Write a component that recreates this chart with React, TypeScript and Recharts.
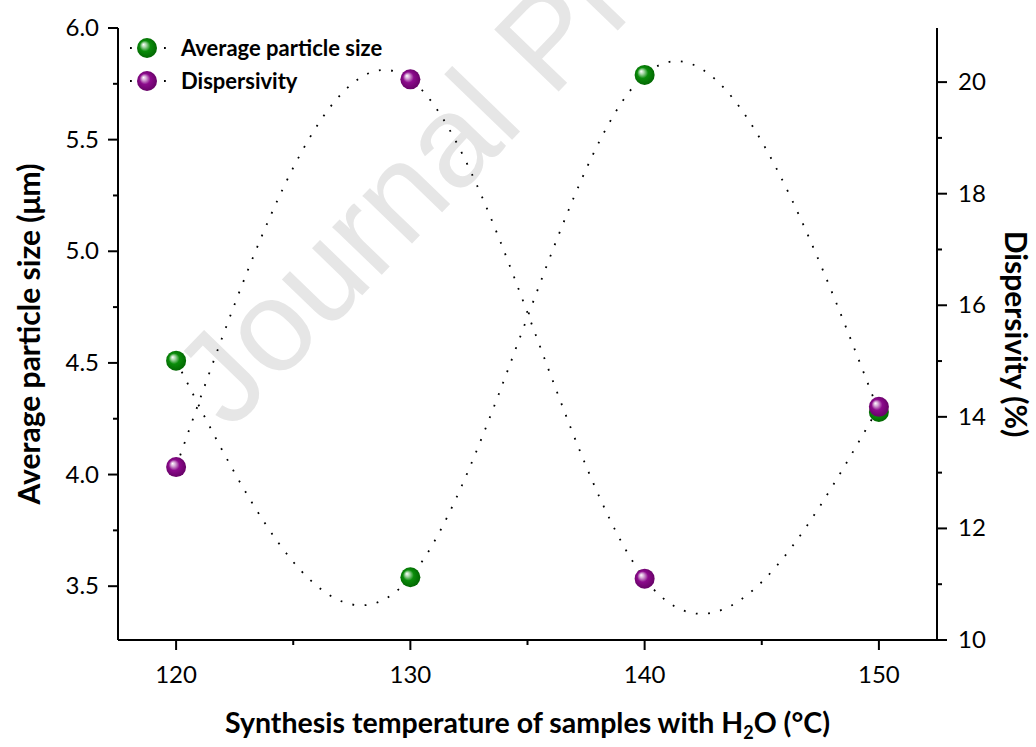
import React from 'react';
import { ComposedChart, Line, XAxis, YAxis } from 'recharts';

// temperatures (°C)
const temperatures = [120, 130, 140, 150];
// average particle size (µm)
const particleSize = [4.51, 3.54, 5.79, 4.28];
// dispersivity (%)
const dispersivity = [13.1, 20.05, 11.1, 14.18];

const xTicks = [120, 125, 130, 135, 140, 145, 150];
const xMajor = [120, 130, 140, 150];
const leftTicks = [3.5, 3.75, 4.0, 4.25, 4.5, 4.75, 5.0, 5.25, 5.5, 5.75, 6.0];
const rightTicks = [10, 11, 12, 13, 14, 15, 16, 17, 18, 19, 20];

const data = temperatures.map((t, i) => ({
  t,
  size: particleSize[i],
  disp: dispersivity[i],
}));

const FONT = 'Lato, "Open Sans", sans-serif';
const W = 1036;
const H = 747;

const isMajor = (v: number, step: number) => Math.abs(v / step - Math.round(v / step)) < 1e-6;

const XTick = ({ x, y, payload }: any) => {
  const major = xMajor.includes(payload.value);
  return (
    <g>
      <line x1={x} x2={x} y1={y} y2={y + (major ? 10 : 5)} stroke="#000" strokeWidth={2} />
      {major && (
        <text x={x} y={y + 43} textAnchor="middle" fontSize={24} fontFamily={FONT} fill="#000">
          {payload.value}
        </text>
      )}
    </g>
  );
};

const LeftTick = ({ x, y, payload }: any) => {
  const major = isMajor(payload.value, 0.5);
  return (
    <g>
      <line x1={x} x2={x - (major ? 10 : 5)} y1={y} y2={y} stroke="#000" strokeWidth={2} />
      {major && (
        <text x={x - 19} y={y + 8} textAnchor="end" fontSize={24} fontFamily={FONT} fill="#000">
          {payload.value.toFixed(1)}
        </text>
      )}
    </g>
  );
};

const RightTick = ({ x, y, payload }: any) => {
  const major = isMajor(payload.value, 2);
  return (
    <g>
      <line x1={x} x2={x + (major ? 10 : 5)} y1={y} y2={y} stroke="#000" strokeWidth={2} />
      {major && (
        <text x={x + 21} y={y + 8} textAnchor="start" fontSize={24} fontFamily={FONT} fill="#000">
          {payload.value}
        </text>
      )}
    </g>
  );
};

const Sphere = ({ cx, cy, id }: any) => {
  if (cx == null || cy == null) return null;
  return <circle cx={cx} cy={cy} r={10} fill={`url(#${id})`} />;
};

const GradientDefs = () => (
  <defs>
    <radialGradient id="gGreen" cx="50%" cy="50%" r="60%" fx="32%" fy="32%">
      <stop offset="0%" stopColor="#ffffff" />
      <stop offset="18%" stopColor="#a9d8a9" />
      <stop offset="45%" stopColor="#0a8c0a" />
      <stop offset="100%" stopColor="#005c00" />
    </radialGradient>
    <radialGradient id="gPurple" cx="50%" cy="50%" r="60%" fx="32%" fy="32%">
      <stop offset="0%" stopColor="#ffffff" />
      <stop offset="18%" stopColor="#d7a9d7" />
      <stop offset="45%" stopColor="#8c0a8c" />
      <stop offset="100%" stopColor="#5c005c" />
    </radialGradient>
  </defs>
);

const legendItems = [
  { name: 'Average particle size', grad: 'gGreen' },
  { name: 'Dispersivity', grad: 'gPurple' },
];

const LegendBox = () => (
  <div style={{ position: 'absolute', left: 123, top: 31, fontFamily: FONT }}>
    {legendItems.map((item) => (
      <div key={item.name} style={{ display: 'flex', alignItems: 'center', height: 33 }}>
        <svg width={48} height={24} style={{ overflow: 'visible' }}>
          <GradientDefs />
          <line x1={7} x2={43} y1={12} y2={12} stroke="#000" strokeWidth={1.8} strokeDasharray="1.8 32.2" />
          <circle cx={24} cy={12} r={10} fill={`url(#${item.grad})`} />
        </svg>
        <span style={{ marginLeft: 10, fontWeight: 700, fontSize: 22, color: '#000', lineHeight: 1 }}>{item.name}</span>
      </div>
    ))}
  </div>
);

const LeftTitle = ({ viewBox }: any) => {
  const cx = 28;
  const cy = viewBox.y + viewBox.height / 2;
  return (
    <text x={cx} y={cy} transform={`rotate(-90, ${cx}, ${cy})`} textAnchor="middle" dominantBaseline="central"
      fontSize={30} fontWeight={700} fontFamily={FONT} fill="#000">
      Average particle size (μm)
    </text>
  );
};

const RightTitle = ({ viewBox }: any) => {
  const cx = 1017;
  const cy = viewBox.y + viewBox.height / 2;
  return (
    <text x={cx} y={cy} transform={`rotate(90, ${cx}, ${cy})`} textAnchor="middle" dominantBaseline="central"
      fontSize={30} fontWeight={700} fontFamily={FONT} fill="#000">
      Dispersivity (%)
    </text>
  );
};

const BottomTitle = ({ viewBox }: any) => {
  const cx = viewBox.x + viewBox.width / 2;
  return (
    <text x={cx} y={733} textAnchor="middle" fontSize={28.5} fontWeight={700} fontFamily={FONT} fill="#000">
      Synthesis temperature of samples with H
      <tspan fontSize={18} dy={6}>2</tspan>
      <tspan dy={-6}>O (°C)</tspan>
    </text>
  );
};

export default function App() {
  return (
    <div style={{ position: 'absolute', left: 0, top: 0, width: W, height: H, background: '#fff' }}>
      <svg width={W} height={H} style={{ position: 'absolute', left: 0, top: 0 }}>
        <text x={230} y={432} transform="rotate(-46, 230, 432)" fontSize={130}
          fontFamily='"Liberation Sans", Arial, sans-serif' fill="#e6e6e6">
          Journal Pre-proof
        </text>
      </svg>
      <div style={{ position: 'absolute', left: 0, top: 0 }}>
        <ComposedChart width={W} height={H} data={data} margin={{ top: 28, right: 0, bottom: 0, left: 0 }}>
          <GradientDefs />
          <XAxis
            dataKey="t"
            type="number"
            domain={[117.52, 152.48]}
            ticks={xTicks}
            interval={0}
            height={107}
            tickSize={0}
            tickMargin={0}
            tick={<XTick />}
            tickLine={false}
            axisLine={{ stroke: '#000', strokeWidth: 2 }}
            allowDataOverflow
            label={<BottomTitle />}
          />
          <XAxis
            xAxisId="top"
            orientation="top"
            dataKey="t"
            type="number"
            domain={[117.52, 152.48]}
            height={0}
            tick={false}
            tickLine={false}
            axisLine={{ stroke: '#000', strokeWidth: 2 }}
          />
          <YAxis
            yAxisId="left"
            type="number"
            domain={[3.259, 6.0]}
            ticks={leftTicks}
            interval={0}
            width={118}
            tickSize={0}
            tickMargin={0}
            tick={<LeftTick />}
            tickLine={false}
            axisLine={{ stroke: '#000', strokeWidth: 2 }}
            allowDataOverflow
            label={<LeftTitle />}
          />
          <YAxis
            yAxisId="right"
            orientation="right"
            type="number"
            domain={[10, 20.97]}
            ticks={rightTicks}
            interval={0}
            width={99}
            tickSize={0}
            tickMargin={0}
            tick={<RightTick />}
            tickLine={false}
            axisLine={{ stroke: '#000', strokeWidth: 2 }}
            allowDataOverflow
            label={<RightTitle />}
          />
          <Line
            yAxisId="left"
            dataKey="size"
            name="Average particle size"
            type="natural"
            stroke="#000"
            strokeWidth={1.8}
            strokeDasharray="1.8 10.5"
            dot={<Sphere id="gGreen" />}
            activeDot={false}
            isAnimationActive={false}
          />
          <Line
            yAxisId="right"
            dataKey="disp"
            name="Dispersivity"
            type="natural"
            stroke="#000"
            strokeWidth={1.8}
            strokeDasharray="1.8 10.5"
            dot={<Sphere id="gPurple" />}
            activeDot={false}
            isAnimationActive={false}
          />
        </ComposedChart>
      </div>
      <LegendBox />
    </div>
  );
}
